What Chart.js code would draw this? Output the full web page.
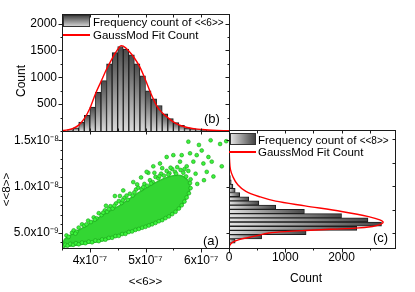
<!DOCTYPE html>
<html>
<head>
<meta charset="utf-8">
<script src="https://cdn.jsdelivr.net/npm/chart.js@4.4.1/dist/chart.umd.min.js"></script>
<style>
  html, body { margin: 0; padding: 0; background: #fff; }
  #wrap { position: relative; width: 415px; height: 292px; overflow: hidden;
          font-family: 'Liberation Sans', Arial, sans-serif; color: #000; }
  #wrap canvas { position: absolute; left: 0; top: 0; }
  .t  { position: absolute; white-space: nowrap; font-size: 11.5px; line-height: 14px; }
  .sw { position: absolute; box-sizing: border-box; border: 1px solid #333; }
  .ln { position: absolute; height: 1.5px; background: #ff0000; }
  .pl { position: absolute; font-size: 13px; line-height: 15px; }
  .ax { position: absolute; font-size: 12px; line-height: 14px; white-space: nowrap; }
</style>
</head>
<body>
<div id="wrap">
  <canvas id="scatter" width="415" height="292"></canvas>
  <canvas id="histTop" width="415" height="292"></canvas>
  <canvas id="histRight" width="415" height="292"></canvas>

  <!-- legend, top panel -->
  <div class="sw" style="left:63px;top:15px;width:27px;height:12px;background:linear-gradient(#484848,#cfcfcf)"></div>
  <div class="t" style="left:93px;top:15px">Frequency count of <span style="font-size:10px">&lt;&lt;6&gt;&gt;</span></div>
  <div class="ln" style="left:63px;top:34px;width:27px"></div>
  <div class="t" style="left:93px;top:28px">GaussMod Fit Count</div>

  <!-- legend, right panel -->
  <div class="sw" style="left:230px;top:133px;width:26px;height:12px;background:linear-gradient(to right,#e2e2e2,#444)"></div>
  <div class="t" style="left:258px;top:133px">Frequency count of <span style="font-size:10px">&lt;&lt;8&gt;&gt;</span></div>
  <div class="ln" style="left:229px;top:151px;width:27px"></div>
  <div class="t" style="left:258px;top:145px">GaussMod Fit Count</div>

  <div class="pl" style="left:204px;top:111px">(b)</div>
  <div class="pl" style="left:203px;top:233px">(a)</div>
  <div class="pl" style="left:373px;top:230px">(c)</div>

  <div class="ax" style="left:21px;top:81px;transform:translate(-50%,-50%) rotate(-90deg)">Count</div>
  <div class="ax" style="left:306px;top:278px;transform:translate(-50%,-50%)">Count</div>
</div>

<script>
// <<6>> histogram (top panel): bin centres in units of 1e-7, counts
const binsX = [3.65, 3.75, 3.85, 3.95, 4.05, 4.15, 4.25, 4.35, 4.45, 4.55, 4.65, 4.75, 4.85, 4.95,
               5.05, 5.15, 5.25, 5.35, 5.45, 5.55, 5.65, 5.75, 5.85, 5.95, 6.05, 6.15, 6.25];
const countsX = [25, 60, 165, 290, 445, 720, 940, 1250, 1460, 1575, 1525, 1420, 1250, 1030,
                 750, 600, 475, 320, 230, 155, 105, 60, 45, 25, 15, 10, 5];
// GaussMod fit: [<<6>> (1e-7), count]
const fitX = [[3.5, 8], [3.6, 20], [3.7, 50], [3.8, 110], [3.9, 230], [4.0, 420], [4.1, 690],
              [4.2, 920], [4.3, 1150], [4.4, 1350], [4.5, 1520], [4.56, 1590], [4.6, 1580],
              [4.7, 1490], [4.8, 1360], [4.9, 1190], [5.0, 950], [5.1, 690], [5.2, 470],
              [5.3, 340], [5.4, 250], [5.5, 170], [5.6, 115], [5.7, 80], [5.8, 55], [5.9, 40],
              [6.0, 30], [6.2, 14], [6.5, 4]];

// <<8>> histogram (right panel): bin centres in units of 1e-9, counts
const binsY = [4.15, 4.6, 5.05, 5.5, 5.95, 6.4, 6.85, 7.3, 7.75, 8.2, 8.65, 9.1, 9.55, 10.0,
               10.45, 10.9, 11.35, 11.8];
const countsY = [110, 580, 1370, 2270, 2710, 2470, 2000, 1340, 830, 530, 350, 190, 110, 70,
                 40, 25, 15, 8];
// GaussMod fit: [<<8>> (1e-9), count]
const fitY = [[3.4, 0], [3.7, 15], [4.0, 60], [4.3, 180], [4.5, 330], [4.75, 520], [5.0, 710],
              [5.15, 1000], [5.27, 1360], [5.4, 1800], [5.52, 2250], [5.7, 2550], [5.95, 2700],
              [6.15, 2740], [6.4, 2680], [6.75, 2480], [7.3, 2000], [7.9, 1350], [8.4, 830],
              [8.9, 530], [9.45, 300], [10.2, 150], [11.0, 70], [11.8, 25], [12.8, 10],
              [13.8, 4], [15, 2], [16, 1]];

// scatter <<6>> (1e-7) vs <<8>> (1e-9): outline of the dense cloud
const bandLower = [[3.52, 3.5], [3.8, 3.75], [4.18, 4.12], [4.5, 4.65], [4.78, 5.2], [5.0, 5.65],
                   [5.26, 6.3], [5.45, 6.9], [5.62, 7.75], [5.74, 8.8], [5.8, 9.8]];
const bandUpper = [[5.77, 10.6], [5.63, 11.2], [5.44, 11.1], [5.2, 10.5], [4.9, 9.45], [4.54, 8.0],
                   [4.18, 6.75], [3.88, 5.6], [3.55, 4.35], [3.52, 3.9]];
// single points along the lower edge of the cloud
const edgePoints = [[3.52, 3.62], [3.56, 3.75], [3.6, 3.66], [3.65, 3.85], [3.7, 3.74], [3.75, 3.92],
  [3.8, 3.8], [3.86, 3.98], [3.92, 3.92], [3.98, 4.08], [4.04, 4.02], [4.1, 4.2], [4.16, 4.14],
  [4.22, 4.32], [4.28, 4.3], [4.34, 4.48], [4.4, 4.5], [4.46, 4.68], [4.52, 4.7], [4.58, 4.9],
  [4.64, 4.92], [4.7, 5.12], [4.76, 5.18], [4.82, 5.35], [4.88, 5.45], [4.94, 5.58], [5.0, 5.68],
  [5.06, 5.82], [5.12, 5.95], [5.18, 6.1], [5.24, 6.28], [5.3, 6.4], [5.36, 6.62], [5.42, 6.8],
  [5.48, 7.05], [5.54, 7.3], [5.6, 7.65], [5.65, 8.0], [5.7, 8.4], [5.74, 8.85], [5.78, 9.3],
  [5.81, 9.85], [5.8, 10.4]];
// points along the fuzzy upper edge
const upperPoints = [[3.58, 4.75], [3.62, 4.6], [3.68, 5.05], [3.71, 5.3], [3.76, 5.15], [3.8, 5.6],
  [3.86, 5.95], [3.9, 5.8], [3.97, 6.35], [4.02, 6.2], [4.07, 6.7], [4.12, 6.6], [4.16, 7.15],
  [4.21, 6.95], [4.27, 7.45], [4.31, 7.3], [4.37, 7.9], [4.41, 7.65], [4.47, 8.2], [4.52, 8.45],
  [4.57, 8.25], [4.62, 8.8], [4.68, 8.6], [4.72, 9.25], [4.77, 9.05], [4.83, 9.7], [4.87, 9.9],
  [4.93, 9.75], [4.98, 10.3], [5.03, 10.1], [5.08, 10.7], [5.13, 10.5], [5.18, 11.05], [5.23, 10.9],
  [5.28, 11.4], [5.33, 11.2], [5.38, 11.7], [5.43, 11.45], [5.48, 11.9], [5.53, 11.6], [5.57, 12.1],
  [5.63, 11.8], [5.68, 11.5], [5.73, 11.1], [5.77, 11.7], [5.81, 10.8],
  [3.74, 4.95], [3.94, 5.95], [4.09, 6.45], [4.24, 7.2], [4.34, 7.6], [4.44, 7.95], [4.59, 8.55],
  [4.66, 9.05], [4.8, 9.4], [4.96, 9.95], [5.1, 10.35], [5.25, 11.15], [5.41, 11.3], [5.55, 11.4],
  [5.7, 11.9], [4.29, 7.95], [4.54, 9.0], [4.85, 10.25], [5.16, 11.5], [5.45, 12.05]];
// sparse points further above the cloud
const outliers = [[4.45, 9.0], [4.6, 9.6], [4.78, 10.5], [4.92, 11.0], [5.05, 11.5], [5.14, 12.2],
  [5.26, 12.5], [5.38, 13.2], [5.5, 13.4], [5.62, 12.7], [5.65, 13.4], [5.74, 12.2], [5.8, 13.6],
  [5.77, 14.85], [5.86, 12.7], [5.92, 13.4], [5.96, 14.5], [6.01, 13.9], [6.04, 12.5], [6.1, 11.6],
  [6.13, 13.2], [6.17, 15.0], [6.19, 12.7], [6.22, 11.1], [6.34, 14.6], [6.37, 12.2], [6.45, 14.9],
  [5.93, 10.3], [6.05, 10.7], [5.9, 11.4], [5.3, 12.0], [5.02, 11.6]];

// tick labels
const xTicks = [4, 5, 6];
const xTickLabels = ['4x10\u207B\u2077', '5x10\u207B\u2077', '6x10\u207B\u2077'];
const yTicks = [5, 10, 15];
const yTickLabels = ['5.0x10\u207B\u2079', '1.0x10\u207B\u2078', '1.5x10\u207B\u2078'];
const topCountTicks = [500, 1000, 1500, 2000];
const rightCountTicks = [0, 1000, 2000];

Chart.defaults.font.family = "'Liberation Sans', Arial, sans-serif";
Chart.defaults.font.size = 12;
Chart.defaults.color = '#000';
Chart.defaults.animation = false;

const RED = '#ff0000';
const pts = a => a.map(([x, y]) => ({ x, y }));
const steps = (a, b, d) => { const r = []; for (let v = a; v <= b + 1e-9; v += d) r.push(+v.toFixed(4)); return r; };

function fixedTicks(values, labels, extra) {
  return Object.assign({
    grid: { display: false, drawTicks: false },
    border: { display: false },
    afterBuildTicks: s => { s.ticks = values.map(v => ({ value: v })); }
  }, extra, {
    ticks: Object.assign({ autoSkip: false, maxRotation: 0, callback: (v, i) => labels[i] }, extra.ticks)
  });
}

// box around the plot area plus Origin-style tick marks
function frame(marks) {
  return {
    id: 'frame',
    afterDraw(chart) {
      const { ctx, chartArea: a } = chart;
      ctx.save();
      ctx.strokeStyle = '#1c1c1c';
      ctx.lineWidth = 1;
      ctx.strokeRect(a.left + 0.5, a.top + 0.5, a.right - a.left, a.bottom - a.top);
      ctx.beginPath();
      for (const m of marks) {
        const s = chart.scales[m.axis];
        const d = m.out ? -m.len : m.len;
        for (const v of m.values) {
          const p = Math.round(s.getPixelForValue(v)) + 0.5;
          if (m.side === 'left')   { ctx.moveTo(a.left + 0.5, p);  ctx.lineTo(a.left + 0.5 + d, p); }
          if (m.side === 'right')  { ctx.moveTo(a.right + 0.5, p); ctx.lineTo(a.right + 0.5 - d, p); }
          if (m.side === 'top')    { ctx.moveTo(p, a.top + 0.5);   ctx.lineTo(p, a.top + 0.5 + d); }
          if (m.side === 'bottom') { ctx.moveTo(p, a.bottom + 0.5); ctx.lineTo(p, a.bottom + 0.5 - d); }
        }
      }
      ctx.stroke();
      ctx.restore();
    }
  };
}

function vGrad(c) {
  const ch = c.chart;
  if (!ch.chartArea || !c.raw) return '#888';
  const y = ch.scales.y;
  const g = ch.ctx.createLinearGradient(0, y.getPixelForValue(c.raw.y), 0, y.getPixelForValue(0));
  g.addColorStop(0, '#4a4a4a');
  g.addColorStop(1, '#dadada');
  return g;
}
function hGrad(c) {
  const ch = c.chart;
  if (!ch.chartArea || !c.raw) return '#888';
  const x = ch.scales.x;
  const g = ch.ctx.createLinearGradient(x.getPixelForValue(0), 0, x.getPixelForValue(c.raw.x), 0);
  g.addColorStop(0, '#e4e4e4');
  g.addColorStop(1, '#474747');
  return g;
}

const noPlugins = { legend: { display: false }, tooltip: { enabled: false } };
const dot = { pointRadius: 1.9, pointBackgroundColor: '#3cf23c', pointBorderColor: '#1a9e1a', pointBorderWidth: 0.6 };

// (a) scatter
new Chart(document.getElementById('scatter'), {
  type: 'scatter',
  data: {
    datasets: [
      Object.assign({ data: pts(edgePoints.concat(upperPoints, outliers)) }, dot),
      { type: 'line', data: pts(bandLower.concat(bandUpper)), showLine: true, fill: 'shape',
        backgroundColor: '#33d633', borderColor: '#2cc42c', borderWidth: 1.5, pointRadius: 0, tension: 0.3 }
    ]
  },
  options: {
    responsive: false,
    layout: { padding: { left: 0, top: 131, right: 186, bottom: 0 } },
    plugins: noPlugins,
    scales: {
      x: fixedTicks(xTicks, xTickLabels, {
        type: 'linear', min: 3.5, max: 6.5,
        afterFit: s => { s.height = 44; },
        ticks: { padding: 5 },
        title: { display: true, text: '<<6>>', font: { size: 11.5 }, padding: { top: 0, bottom: 3 } }
      }),
      y: fixedTicks(yTicks, yTickLabels, {
        type: 'linear', min: 3.4, max: 16,
        afterFit: s => { s.width = 62; },
        ticks: { padding: 3 },
        title: { display: true, text: '<<8>>', font: { size: 11.5 }, padding: { top: 0, bottom: 0 } }
      })
    }
  },
  plugins: [frame([
    { axis: 'y', side: 'left', out: true, len: 4, values: yTicks },
    { axis: 'y', side: 'left', out: true, len: 2, values: steps(4, 16, 1) },
    { axis: 'y', side: 'right', out: false, len: 3, values: yTicks },
    { axis: 'x', side: 'bottom', out: true, len: 4, values: xTicks },
    { axis: 'x', side: 'bottom', out: true, len: 2, values: [3.5, 4.5, 5.5, 6.5] },
    { axis: 'x', side: 'top', out: false, len: 3, values: xTicks }
  ])]
});

// (b) <<6>> histogram
new Chart(document.getElementById('histTop'), {
  type: 'bar',
  data: {
    datasets: [
      { type: 'line', data: pts(fitX), borderColor: RED, borderWidth: 1.4, pointRadius: 0,
        cubicInterpolationMode: 'monotone', fill: false },
      { type: 'bar', data: binsX.map((x, i) => ({ x, y: countsX[i] })), backgroundColor: vGrad,
        borderColor: '#1e1e1e', borderWidth: 1, barPercentage: 1, categoryPercentage: 1 }
    ]
  },
  options: {
    responsive: false,
    layout: { padding: { left: 0, top: 14, right: 186, bottom: 161 } },
    plugins: noPlugins,
    scales: {
      x: { type: 'linear', min: 3.5, max: 6.5, offset: false, display: false },
      y: fixedTicks(topCountTicks, topCountTicks.map(String), {
        type: 'linear', min: 0, max: 2180,
        afterFit: s => { s.width = 62; },
        ticks: { padding: 5 }
      })
    }
  },
  plugins: [frame([
    { axis: 'y', side: 'left', out: true, len: 4, values: topCountTicks },
    { axis: 'y', side: 'left', out: true, len: 2, values: steps(250, 2000, 500) },
    { axis: 'y', side: 'right', out: false, len: 4, values: topCountTicks },
    { axis: 'y', side: 'right', out: false, len: 2, values: steps(250, 2000, 500) },
    { axis: 'x', side: 'bottom', out: false, len: 3, values: steps(4, 6, 0.5) },
    { axis: 'x', side: 'top', out: false, len: 3, values: steps(4, 6, 0.5) }
  ])]
});

// (c) <<8>> histogram, horizontal
new Chart(document.getElementById('histRight'), {
  type: 'bar',
  data: {
    datasets: [
      { type: 'line', indexAxis: 'y', data: fitY.map(([y, x]) => ({ x, y })), borderColor: RED,
        borderWidth: 1.4, pointRadius: 0, cubicInterpolationMode: 'monotone', fill: false },
      { type: 'bar', data: binsY.map((y, i) => ({ x: countsY[i], y })), backgroundColor: hGrad,
        borderColor: '#1e1e1e', borderWidth: 1, barPercentage: 1, categoryPercentage: 1 }
    ]
  },
  options: {
    indexAxis: 'y',
    responsive: false,
    layout: { padding: { left: 229, top: 130, right: 20, bottom: 0 } },
    plugins: noPlugins,
    scales: {
      y: { type: 'linear', min: 3.4, max: 16, offset: false, display: false },
      x: fixedTicks(rightCountTicks, rightCountTicks.map(String), {
        type: 'linear', min: 0, max: 2950, position: 'bottom',
        afterFit: s => { s.height = 44; },
        ticks: { padding: 2 }
      })
    }
  },
  plugins: [frame([
    { axis: 'x', side: 'bottom', out: true, len: 4, values: rightCountTicks },
    { axis: 'x', side: 'bottom', out: true, len: 2, values: [500, 1500, 2500] },
    { axis: 'x', side: 'top', out: false, len: 3, values: [500, 1000, 1500, 2000, 2500] },
    { axis: 'y', side: 'right', out: false, len: 3, values: [5, 7.5, 10, 12.5, 15] }
  ])]
});
</script>
</body>
</html>
